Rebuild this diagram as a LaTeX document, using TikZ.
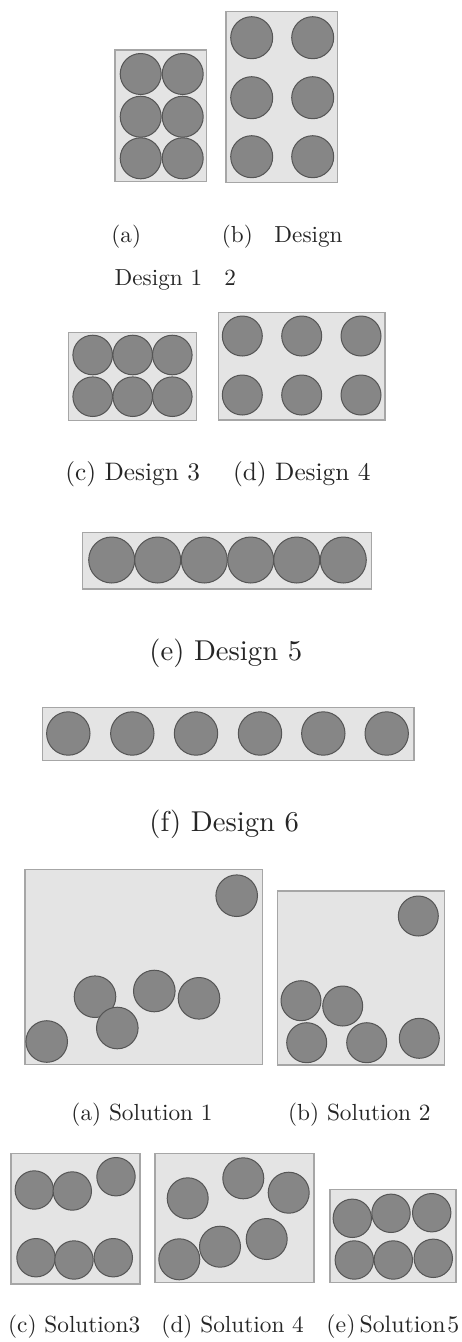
\documentclass[tikz,border=0pt]{standalone}
\usepackage{tikz}
\definecolor{boxfill}{HTML}{E4E4E4}
\definecolor{boxline}{HTML}{A6A6A6}
\definecolor{ballfill}{HTML}{868686}
\definecolor{ballline}{HTML}{555555}
\definecolor{txt}{HTML}{262626}
\begin{document}
\begin{tikzpicture}[x=1pt,y=-1pt,
  cont/.style={fill=boxfill,draw=boxline,line width=1.3pt},
  ball/.style={fill=ballfill,draw=ballline,line width=1pt},
  lab/.style={inner sep=0pt,anchor=base west,text=txt,font=\fontsize{10}{12}\selectfont}]
\useasboundingbox[fill=white] (0,0) rectangle (461,1342);
% Design 1
\draw[cont] (115,50) rectangle (206.7,181.7);
\foreach \x in {140.7,182.7} \foreach \y in {74,116.7,158.3} \draw[ball] (\x,\y) circle (20.5);
% Design 2
\draw[cont] (226,11.7) rectangle (337.3,182.7);
\foreach \x in {251.7,312.7} \foreach \y in {37.7,97.7,156.7} \draw[ball] (\x,\y) circle (21);
% Design 3
\draw[cont] (68.3,332.3) rectangle (196.7,420.7);
\foreach \x in {92.7,132.7,172.3} \foreach \y in {355,396.7} \draw[ball] (\x,\y) circle (19.8);
% Design 4
\draw[cont] (218.3,312.3) rectangle (385,420);
\foreach \x in {242.3,301.7,361} \foreach \y in {336,395} \draw[ball] (\x,\y) circle (20);
% Design 5
\draw[cont] (82.7,532.3) rectangle (371.7,589);
\foreach \x in {111.7,157.7,204.3,250.7,296.7,343.3} \draw[ball] (\x,560) circle (23);
% Design 6
\draw[cont] (42.7,707.3) rectangle (414,760.7);
\foreach \x in {68.3,132.3,196,260,323.3,386.7} \draw[ball] (\x,733.5) circle (21.7);
% Solution 1
\draw[cont] (25,869.3) rectangle (262.3,1064.3);
\foreach \p in {(236.7,895.7),(95,996.7),(154.3,991),(199,998.3),(117.3,1028),(46.7,1041.5)} \draw[ball] \p circle (20.8);
% Solution 2
\draw[cont] (277.3,891) rectangle (444.3,1065);
\foreach \p in {(418.3,916),(301,1000.7),(342.7,1006),(306.7,1042.7),(366.7,1042.7),(419.3,1038.3)} \draw[ball] \p circle (20);
% Solution 3
\draw[cont] (11,1153.3) rectangle (140,1284);
\foreach \p in {(34.3,1190),(72.3,1191),(116,1176.7),(36,1257.7),(74,1260),(113.3,1257.7)} \draw[ball] \p circle (19.2);
% Solution 4
\draw[cont] (155,1153.3) rectangle (314,1282.7);
\foreach \p in {(187.7,1198.3),(243.3,1178.3),(288.7,1192.7),(179.3,1259.3),(220,1246.7),(266.7,1239)} \draw[ball] \p circle (20.5);
% Solution 5
\draw[cont] (330,1189.3) rectangle (456,1282.7);
\foreach \p in {(352.3,1218.3),(391,1213.3),(431.7,1212.7),(354.3,1260),(393.3,1260),(433.3,1258.3)} \draw[ball] \p circle (19.2);
% labels
\node[lab,scale=2.32] (la) at (111,242.5) {(a)};
\node[lab,scale=2.32] (lb) at (221.5,242.5) {(b)\hspace{9.3pt}Design};
\node[lab,scale=2.32] (la2) at (114.2,285.5) {Design 1};
\node[lab,scale=2.32] (lb2) at (223.8,285.5) {2};
\node[lab,scale=2.53] (lc) at (64.8,480) {(c) Design 3};
\node[lab,scale=2.53] (ld) at (232.5,480) {(d) Design 4};
\node[lab,scale=2.87] (le) at (148.8,660) {(e) Design 5};
\node[lab,scale=2.87] (lf) at (148.8,831) {(f) Design 6};
\node[lab,scale=2.33] (sa) at (71,1120) {(a) Solution 1};
\node[lab,scale=2.33] (sb) at (287.7,1120) {(b) Solution 2};
\node[lab,scale=2.33] (sc) at (7.7,1332) {(c) Solution3};
\node[lab,scale=2.33] (sd) at (161,1332) {(d) Solution 4};
\node[lab,scale=2.38] (se) at (326,1332) {(e)\hspace{1.7pt}Solution\hspace{0.7pt}5};
\end{tikzpicture}
\end{document}
